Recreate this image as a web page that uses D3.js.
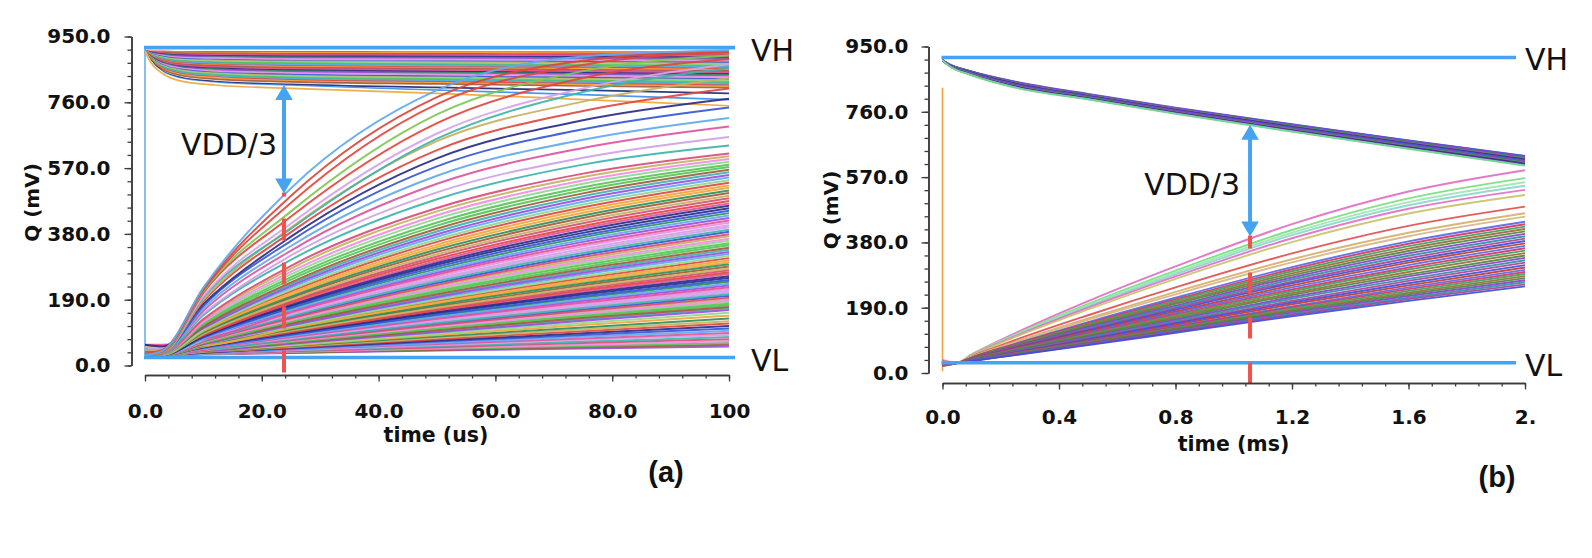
<!DOCTYPE html>
<html>
<head>
<meta charset="utf-8">
<script src="https://cdn.jsdelivr.net/npm/d3@7"></script>
<style>
    html, body { margin: 0; padding: 0; background: #fff; }
    svg { display: block; }
</style>
</head>
<body>
<svg id="chart" width="1592" height="558"></svg>
<script>
// ---------------- data ----------------

var yTicks = [0, 190, 380, 570, 760, 950];
var yTickLabels = ['0.0', '190.0', '380.0', '570.0', '760.0', '950.0'];
var yMinorStep = 38;

var xTicksA = [0, 20, 40, 60, 80, 100];
var xTickLabelsA = ['0.0', '20.0', '40.0', '60.0', '80.0', '100'];
var xMinorStepA = 4;

var xTicksB = [0, 0.4, 0.8, 1.2, 1.6, 2.0];
var xTickLabelsB = ['0.0', '0.4', '0.8', '1.2', '1.6', '2.'];
var xMinorStepB = 0.08;

var railNames = ['VH', 'VL'];
var railValuesA = [918, 23];
var railValuesB = [918, 30];

// time of the red marker and the VDD/3 gap (mV) it spans
var markerTimeA = 23.8;
var gapA = [810, 497];
var markerTimeB = 1.056;
var gapB = [722, 397];

// vertical jump at t = 0 (mV)
var spikeA = [23, 918];
var spikeB = [5, 830];

// (a) time in us
var timeAUpper = [0, 1, 3, 6, 12, 25, 50, 75, 100];
var upperA = [
    [908, 907, 907, 906, 906, 906, 905, 905, 905],
    [908, 907, 905, 904, 903, 903, 903, 902, 902],
    [908, 906, 904, 902, 901, 900, 900, 899, 899],
    [908, 905, 902, 900, 899, 898, 897, 897, 896],
    [908, 904, 901, 898, 897, 895, 895, 894, 893],
    [908, 904, 899, 896, 894, 893, 892, 891, 890],
    [908, 903, 898, 894, 892, 890, 889, 888, 887],
    [908, 902, 896, 892, 890, 888, 886, 885, 884],
    [908, 901, 895, 890, 888, 885, 884, 882, 881],
    [908, 901, 893, 888, 885, 883, 881, 880, 878],
    [908, 900, 892, 886, 883, 880, 878, 877, 875],
    [908, 899, 890, 884, 881, 878, 876, 874, 872],
    [908, 898, 889, 882, 878, 875, 873, 871, 869],
    [908, 898, 887, 880, 876, 873, 870, 868, 866],
    [908, 897, 886, 878, 874, 870, 868, 865, 863],
    [908, 896, 884, 876, 872, 868, 865, 862, 860],
    [908, 895, 883, 874, 869, 865, 862, 860, 857],
    [908, 895, 881, 872, 867, 863, 859, 857, 854],
    [908, 894, 880, 870, 865, 860, 857, 854, 851],
    [908, 893, 878, 868, 862, 858, 854, 851, 848],
    [908, 892, 877, 866, 860, 855, 851, 848, 845],
    [908, 892, 875, 864, 858, 853, 849, 845, 842],
    [908, 891, 874, 862, 856, 850, 846, 842, 839],
    [908, 890, 872, 860, 853, 848, 843, 840, 836],
    [908, 889, 871, 859, 851, 845, 841, 837, 833],
    [908, 889, 869, 857, 849, 843, 838, 834, 830],
    [908, 888, 868, 855, 846, 840, 835, 831, 827],
    [908, 887, 866, 853, 844, 837, 832, 828, 824],
    [908, 886, 865, 851, 842, 835, 830, 825, 821],
    [908, 886, 863, 849, 840, 832, 827, 823, 818],
    [908, 885, 862, 847, 837, 830, 824, 820, 815],
    [908, 884, 860, 845, 835, 827, 822, 817, 812],
    [908, 883, 859, 843, 833, 825, 819, 814, 809],
    [908, 883, 857, 841, 831, 822, 816, 811, 806],
    [908, 882, 855, 838, 827, 819, 813, 807, 802],
    [908, 880, 850, 832, 820, 812, 803, 795, 786],
    [908, 878, 848, 829, 817, 808, 795, 782, 768],
    [908, 877, 846, 827, 815, 805, 790, 775, 760],
    [908, 875, 843, 822, 810, 800, 786, 768, 750]
];

var timeALower = [0, 3, 10, 25, 50, 75, 100];
var lowerA = [
    [30, 30, 32, 36, 43, 49, 55],
    [32, 31, 33, 37, 45, 53, 60],
    [28, 29, 33, 39, 48, 56, 65],
    [34, 32, 33, 40, 50, 60, 70],
    [30, 30, 34, 41, 53, 65, 76],
    [36, 33, 34, 43, 56, 69, 82],
    [30, 30, 35, 44, 59, 74, 88],
    [40, 36, 36, 46, 62, 78, 94],
    [30, 30, 36, 47, 65, 83, 100],
    [28, 29, 37, 49, 69, 88, 107],
    [32, 31, 37, 51, 72, 93, 114],
    [30, 30, 38, 52, 76, 99, 121],
    [45, 42, 42, 54, 80, 104, 128],
    [30, 30, 39, 56, 84, 110, 136],
    [34, 32, 40, 58, 88, 117, 144],
    [30, 30, 41, 60, 92, 123, 152],
    [38, 35, 41, 63, 96, 129, 160],
    [30, 30, 43, 66, 102, 137, 169],
    [28, 29, 43, 68, 107, 144, 178],
    [32, 31, 44, 71, 112, 151, 187],
    [30, 30, 45, 73, 117, 158, 196],
    [50, 48, 48, 76, 123, 166, 206],
    [30, 30, 48, 79, 129, 174, 216],
    [34, 32, 49, 82, 135, 182, 226],
    [30, 30, 50, 85, 140, 191, 236],
    [38, 34, 51, 89, 147, 200, 247],
    [30, 30, 53, 93, 154, 209, 258],
    [28, 29, 54, 96, 160, 218, 269],
    [32, 31, 55, 100, 167, 227, 280],
    [30, 30, 57, 104, 175, 237, 292],
    [55, 55, 58, 108, 182, 247, 304],
    [30, 30, 60, 112, 190, 257, 316],
    [34, 32, 61, 116, 198, 268, 328],
    [30, 30, 63, 121, 206, 278, 340],
    [40, 36, 65, 126, 215, 290, 353],
    [30, 30, 67, 131, 224, 301, 366],
    [28, 29, 69, 136, 233, 313, 379],
    [32, 31, 71, 142, 243, 325, 392],
    [30, 30, 74, 147, 252, 337, 405],
    [60, 60, 76, 154, 263, 350, 419],
    [30, 30, 78, 160, 273, 363, 433],
    [34, 32, 81, 167, 285, 376, 447],
    [30, 30, 84, 174, 296, 390, 461],
    [42, 38, 87, 182, 308, 403, 475],
    [30, 31, 91, 190, 321, 418, 490],
    [28, 30, 95, 199, 335, 433, 505],
    [32, 32, 99, 209, 349, 449, 520],
    [30, 31, 103, 219, 364, 465, 535],
    [45, 42, 108, 230, 379, 481, 550],
    [30, 32, 112, 240, 395, 497, 565],
    [34, 34, 119, 255, 413, 515, 580],
    [30, 33, 126, 271, 434, 534, 596],
    [38, 36, 134, 288, 455, 554, 612],
    [30, 34, 145, 305, 480, 580, 635],
    [52, 48, 150, 318, 500, 600, 660],
    [30, 36, 158, 332, 525, 628, 690],
    [36, 38, 165, 345, 548, 652, 715],
    [30, 37, 172, 360, 575, 682, 745],
    [60, 55, 178, 372, 598, 708, 770],
    [30, 38, 185, 385, 622, 735, 800],
    [45, 45, 190, 398, 648, 762, 830],
    [30, 35, 196, 395, 655, 790, 858],
    [30, 36, 200, 410, 670, 800, 870],
    [28, 36, 210, 430, 700, 830, 885],
    [30, 38, 215, 445, 725, 850, 895],
    [30, 40, 218, 470, 755, 868, 905],
    [35, 45, 222, 490, 775, 880, 908],
    [30, 42, 225, 512, 795, 892, 910]
];

// more runs packed inside the dense part of the lower fan
var lowerAMid = [
    [30, 30, 42, 65, 99, 133, 165],
    [32, 31, 43, 67, 105, 141, 174],
    [30, 30, 44, 70, 110, 148, 183],
    [28, 29, 45, 72, 115, 155, 192],
    [30, 30, 46, 75, 120, 162, 201],
    [34, 32, 48, 78, 126, 170, 211],
    [30, 30, 49, 81, 132, 178, 221],
    [36, 33, 50, 84, 138, 187, 231],
    [30, 30, 51, 87, 144, 196, 242],
    [28, 29, 52, 91, 151, 205, 253],
    [30, 30, 54, 95, 157, 214, 264],
    [32, 31, 55, 98, 164, 223, 275],
    [30, 30, 56, 102, 171, 232, 286],
    [40, 36, 58, 106, 179, 242, 298],
    [30, 30, 59, 110, 186, 252, 310],
    [28, 29, 61, 114, 194, 263, 322],
    [30, 30, 62, 119, 202, 273, 334],
    [34, 32, 64, 124, 211, 284, 347],
    [30, 30, 66, 129, 220, 296, 360],
    [45, 42, 68, 134, 229, 307, 373],
    [30, 30, 70, 139, 238, 319, 386],
    [32, 31, 73, 145, 248, 331, 399],
    [30, 30, 75, 151, 258, 344, 412],
    [28, 29, 77, 157, 268, 357, 426],
    [30, 30, 80, 164, 279, 370, 440],
    [36, 33, 83, 171, 291, 383, 454],
    [30, 30, 86, 178, 302, 397, 468],
    [32, 31, 89, 186, 315, 411, 483],
    [30, 31, 93, 195, 328, 426, 498],
    [28, 30, 97, 204, 342, 441, 513],
    [30, 31, 101, 214, 357, 457, 528],
    [34, 33, 106, 225, 372, 473, 543],
    [30, 32, 110, 235, 387, 489, 558],
    [32, 33, 116, 248, 404, 506, 573],
    [30, 33, 123, 263, 424, 525, 588],
    [30, 34, 130, 280, 445, 544, 604]
];

// (b) time in ms
var timeBUpper = [0, 0.02, 0.1, 0.25, 0.5, 0.8, 1.2, 1.6, 2.0];
var upperB = [
    [910, 900, 878, 848, 812, 772, 724, 677, 632],
    [910, 900, 877, 847, 811, 771, 723, 676, 631],
    [910, 900, 877, 846, 810, 770, 722, 675, 629],
    [910, 899, 876, 845, 810, 769, 721, 673, 628],
    [910, 899, 876, 844, 809, 768, 720, 672, 626],
    [910, 899, 875, 844, 808, 768, 719, 671, 625],
    [910, 899, 874, 843, 807, 767, 717, 670, 623],
    [910, 898, 874, 842, 806, 766, 716, 668, 622],
    [910, 898, 873, 841, 806, 765, 715, 667, 620],
    [910, 898, 873, 840, 805, 764, 714, 666, 619],
    [910, 898, 872, 839, 804, 763, 713, 665, 618],
    [910, 897, 871, 838, 803, 762, 712, 663, 616],
    [910, 897, 871, 837, 802, 761, 711, 662, 615],
    [910, 897, 870, 836, 802, 760, 710, 661, 613],
    [910, 897, 870, 835, 801, 759, 709, 660, 612],
    [910, 896, 869, 835, 800, 759, 708, 658, 610],
    [910, 896, 868, 834, 799, 758, 706, 657, 609],
    [910, 896, 868, 833, 798, 757, 705, 656, 607],
    [910, 896, 867, 832, 797, 756, 704, 654, 606],
    [910, 895, 867, 831, 797, 755, 703, 653, 604],
    [910, 895, 866, 830, 796, 754, 702, 652, 603]
];

var timeBLower = [0, 0.05, 0.1, 0.25, 0.5, 0.8, 1.2, 1.6, 2.0];
var lowerB = [
    [38, 30, 54, 116, 209, 310, 433, 528, 590],
    [30, 29, 53, 112, 201, 298, 416, 508, 567],
    [28, 29, 53, 111, 197, 292, 408, 497, 555],
    [25, 29, 52, 109, 194, 287, 401, 488, 545],
    [32, 29, 52, 107, 190, 281, 392, 478, 533],
    [22, 29, 51, 105, 185, 274, 381, 464, 518],
    [30, 29, 48, 96, 168, 249, 348, 428, 484],
    [20, 29, 47, 91, 159, 236, 331, 408, 465],
    [35, 29, 46, 89, 155, 229, 322, 398, 455],
    [30, 29, 45, 85, 148, 219, 308, 383, 440],
    [26, 29, 45, 84, 145, 214, 302, 376, 433],
    [32, 29, 44, 82, 142, 210, 296, 369, 426],
    [24, 29, 44, 80, 139, 205, 290, 362, 419],
    [30, 29, 43, 79, 136, 201, 284, 355, 412],
    [28, 29, 43, 77, 133, 196, 278, 348, 405],
    [33, 29, 42, 76, 130, 192, 272, 341, 398],
    [22, 29, 42, 75, 127, 188, 266, 334, 391],
    [30, 29, 41, 73, 124, 184, 261, 327, 384],
    [27, 29, 41, 72, 121, 179, 255, 321, 377],
    [31, 29, 40, 70, 118, 175, 249, 314, 370],
    [24, 29, 40, 69, 116, 171, 243, 307, 363],
    [30, 29, 40, 68, 113, 167, 238, 301, 356],
    [29, 29, 39, 66, 110, 163, 232, 294, 349],
    [34, 29, 39, 65, 108, 159, 227, 287, 342],
    [22, 29, 38, 64, 105, 155, 221, 281, 335],
    [30, 29, 38, 62, 103, 151, 216, 274, 328],
    [26, 29, 38, 61, 100, 147, 210, 268, 321],
    [31, 29, 37, 60, 98, 144, 205, 261, 314],
    [24, 29, 37, 59, 95, 140, 200, 255, 307],
    [30, 29, 37, 57, 93, 136, 194, 249, 300],
    [28, 29, 36, 57, 91, 134, 191, 244, 294],
    [33, 29, 36, 56, 90, 131, 187, 239, 288],
    [20, 29, 36, 56, 88, 129, 183, 234, 282],
    [30, 29, 36, 55, 87, 127, 180, 229, 276],
    [26, 29, 36, 54, 86, 124, 176, 224, 270],
    [32, 29, 36, 54, 84, 122, 172, 219, 264],
    [24, 29, 35, 53, 83, 120, 169, 215, 258],
    [30, 29, 35, 52, 81, 117, 165, 210, 252]
];

// ---------------- styles ----------------

var mixColors = ['#e2463f', '#56c456', '#3457d5', '#9a4de0', '#e0529c', '#f0a63a', '#3fb3ad',
    '#c7b15e', '#f08de0', '#2a2d8c', '#a35b3c', '#62a9ee', '#8fd88f', '#cf9fe6', '#2f8f5a', '#d94c7a'];
var upperATail = ['#1f2a7a', '#3b8fe8', '#ffffff', '#f0a63a'];
var lowerAFast = ['#42b3a8', '#d7a3ea', '#e2463f', '#7cc850', '#e2463f', '#d8483c', '#62a9ee'];
var upperBColors = ['#6b3fc9', '#2b2e8e', '#3f9f5a', '#8b45b0', '#3d5bd0', '#5a2d86', '#b24fa0',
    '#2e7d70', '#7a50d8'];
var upperBTail = ['#80e0a8', '#70d890'];
var lowerBTop = ['#e06fc4', '#78e078', '#9ce6b8', '#8ad8c8', '#e070c8', '#c9c26c', '#e05050',
    '#d4b06a', '#d8b488'];
var lowerBColors = ['#d6336c', '#3b4fd8', '#8a3fc8', '#3e9e5a', '#c0392b', '#2f8fa8', '#9b6a3a',
    '#5868e0', '#b0408f', '#4a8a3a'];

var railColor = '#45a3f2';
var markerColor = '#f2524a';
var axisColor = '#3a3a3a';
var tickFont = 'DejaVu Sans, Verdana, sans-serif';
var noteFont = 'DejaVu Sans, Verdana, sans-serif';
var tagFont = 'Liberation Sans, Arial, Helvetica, sans-serif';

var svg = d3.select('#chart');

var drawPanel = function (p) {
    var x = d3.scaleLinear().domain(p.xDomain).range([p.x0, p.x1]);
    var y = d3.scaleLinear().domain([0, 950]).range([p.yBottom, p.yTop]);
    var g = svg.append('g');

    var plotTraces = function (times, rows, colorFn, width) {
        var line = d3.line()
            .x(function (d, i) { return x(times[i]); })
            .y(function (d) { return y(d); })
            .curve(d3.curveMonotoneX);
        g.append('g').selectAll('path')
            .data(rows)
            .enter()
            .append('path')
            .attr('d', line)
            .attr('fill', 'none')
            .attr('stroke', colorFn)
            .attr('stroke-width', width)
            .attr('stroke-opacity', 0.92);
    };

    // t = 0 jump
    g.append('line')
        .attr('x1', x(0)).attr('x2', x(0))
        .attr('y1', y(p.spike[0])).attr('y2', y(p.spike[1]))
        .attr('stroke', p.spikeColor)
        .attr('stroke-width', 1.5);

    p.groups.forEach(function (grp) {
        plotTraces(grp.times, grp.rows, grp.color, grp.width);
    });

    // supply rails
    p.rails.forEach(function (v, i) {
        g.append('line')
            .attr('x1', x(0) - 1).attr('x2', p.railEnd)
            .attr('y1', y(v)).attr('y2', y(v))
            .attr('stroke', railColor)
            .attr('stroke-width', 3.6);
        g.append('text')
            .attr('x', p.railLabelX)
            .attr('y', y(v) + 13)
            .attr('font-family', noteFont)
            .attr('font-size', 30)
            .attr('fill', '#111')
            .text(railNames[i]);
    });

    // red dashed marker
    var mx = x(p.markerTime);
    g.append('line')
        .attr('x1', mx).attr('x2', mx)
        .attr('y1', y(p.gap[1]) - 1).attr('y2', p.xAxisY + 2)
        .attr('stroke', markerColor)
        .attr('stroke-width', 4)
        .attr('stroke-dasharray', p.dash)
        .attr('stroke-dashoffset', p.dashOffset);

    // VDD/3 double arrow
    var yTop = y(p.gap[0]), yBot = y(p.gap[1]);
    var headL = 15, headW = 8.8;
    g.append('line')
        .attr('x1', mx).attr('x2', mx)
        .attr('y1', yTop + headL - 1).attr('y2', yBot - headL + 1)
        .attr('stroke', railColor)
        .attr('stroke-width', 4);
    g.append('path')
        .attr('d', 'M' + mx + ',' + yTop + 'L' + (mx - headW) + ',' + (yTop + headL) +
            'L' + (mx + headW) + ',' + (yTop + headL) + 'Z')
        .attr('fill', railColor);
    g.append('path')
        .attr('d', 'M' + mx + ',' + yBot + 'L' + (mx - headW) + ',' + (yBot - headL) +
            'L' + (mx + headW) + ',' + (yBot - headL) + 'Z')
        .attr('fill', railColor);
    g.append('text')
        .attr('x', mx - p.noteGap)
        .attr('y', p.noteY)
        .attr('text-anchor', 'end')
        .attr('font-family', noteFont)
        .attr('font-size', 30)
        .attr('fill', '#111')
        .text('VDD/3');

    // axes: minor then major ticks
    var styleAxis = function (sel) {
        sel.attr('color', axisColor);
        sel.select('.domain').attr('stroke-width', 1.5);
        sel.selectAll('.tick line').attr('stroke-width', 1.3);
        sel.selectAll('text')
            .attr('font-family', tickFont)
            .attr('font-weight', 'bold')
            .attr('font-size', 20)
            .attr('fill', '#111');
    };

    g.append('g')
        .attr('transform', 'translate(' + p.yAxisX + ',0)')
        .call(d3.axisLeft(y).tickValues(d3.range(0, 950 + 1, yMinorStep))
            .tickSize(4).tickSizeOuter(0).tickFormat(''))
        .call(styleAxis);
    g.append('g')
        .attr('transform', 'translate(' + p.yAxisX + ',0)')
        .call(d3.axisLeft(y).tickValues(yTicks).tickSize(7).tickSizeOuter(0)
            .tickPadding(p.yPad)
            .tickFormat(function (d, i) { return yTickLabels[i]; }))
        .call(styleAxis);

    g.append('g')
        .attr('transform', 'translate(0,' + p.xAxisY + ')')
        .call(d3.axisBottom(x).tickValues(d3.range(0, p.xDomain[1] + p.xMinor / 2, p.xMinor))
            .tickSize(3.5).tickSizeOuter(0).tickFormat(''))
        .call(styleAxis);
    g.append('g')
        .attr('transform', 'translate(0,' + p.xAxisY + ')')
        .call(d3.axisBottom(x).tickValues(p.xTicks).tickSize(6.5).tickSizeOuter(0)
            .tickPadding(p.xPad)
            .tickFormat(function (d, i) { return p.xLabels[i]; }))
        .call(styleAxis);

    // titles
    g.append('text')
        .attr('transform', 'translate(' + p.yTitle[0] + ',' + p.yTitle[1] + ') rotate(-90)')
        .attr('text-anchor', 'middle')
        .attr('font-family', tickFont)
        .attr('font-weight', 'bold')
        .attr('font-size', 20)
        .attr('fill', '#111')
        .text('Q (mV)');
    g.append('text')
        .attr('x', p.xTitle[0])
        .attr('y', p.xTitle[1])
        .attr('text-anchor', 'middle')
        .attr('font-family', tickFont)
        .attr('font-weight', 'bold')
        .attr('font-size', 20.5)
        .attr('fill', '#111')
        .text(p.xTitleText);
    g.append('text')
        .attr('x', p.tag[0])
        .attr('y', p.tag[1])
        .attr('text-anchor', 'middle')
        .attr('font-family', tagFont)
        .attr('font-weight', 'bold')
        .attr('font-size', 29)
        .attr('fill', '#111')
        .text(p.tagText);
};

drawPanel({
    xDomain: [0, 100], x0: 145, x1: 729,
    yBottom: 365.5, yTop: 36.5,
    yAxisX: 131.5, xAxisY: 375, yPad: 14, xPad: 21.8,
    xTicks: xTicksA, xLabels: xTickLabelsA, xMinor: xMinorStepA,
    rails: railValuesA, railEnd: 735, railLabelX: 751,
    spike: spikeA, spikeColor: '#62a9ee',
    markerTime: markerTimeA, gap: gapA, dash: '22,22', dashOffset: 18,
    noteGap: 7, noteY: 155,
    yTitle: [39, 202.5], xTitle: [436, 442], xTitleText: 'time (us)',
    tag: [666, 482], tagText: '(a)',
    groups: [
        {
            times: timeAUpper, rows: upperA, width: 1.7,
            color: function (d, i) {
                var k = i - (upperA.length - upperATail.length);
                return k >= 0 ? upperATail[k] : mixColors[(i * 5) % mixColors.length];
            }
        },
        {
            times: timeALower, rows: lowerAMid, width: 2,
            color: function (d, i) { return mixColors[(i * 11 + 6) % mixColors.length]; }
        },
        {
            times: timeALower, rows: lowerA, width: 2,
            color: function (d, i) {
                var k = i - (lowerA.length - lowerAFast.length);
                return k >= 0 ? lowerAFast[k] : mixColors[(i * 7 + 3) % mixColors.length];
            }
        }
    ]
});

drawPanel({
    xDomain: [0, 2], x0: 942.5, x1: 1525,
    yBottom: 373, yTop: 46.5,
    yAxisX: 928.5, xAxisY: 383, yPad: 13, xPad: 19.8,
    xTicks: xTicksB, xLabels: xTickLabelsB, xMinor: xMinorStepB,
    rails: railValuesB, railEnd: 1516, railLabelX: 1525,
    spike: spikeB, spikeColor: '#f0a040',
    markerTime: markerTimeB, gap: gapB, dash: '21,24', dashOffset: 8,
    noteGap: 10, noteY: 195,
    yTitle: [838, 210], xTitle: [1233.5, 451], xTitleText: 'time (ms)',
    tag: [1497, 487], tagText: '(b)',
    groups: [
        {
            times: timeBUpper, rows: upperB, width: 1.7,
            color: function (d, i) {
                var k = i - (upperB.length - upperBTail.length);
                return k >= 0 ? upperBTail[k] : upperBColors[(i * 4) % upperBColors.length];
            }
        },
        {
            times: timeBLower, rows: lowerB, width: 1.9,
            color: function (d, i) {
                return i < lowerBTop.length ? lowerBTop[i] :
                    lowerBColors[(i * 3) % lowerBColors.length];
            }
        }
    ]
});
</script>
</body>
</html>
